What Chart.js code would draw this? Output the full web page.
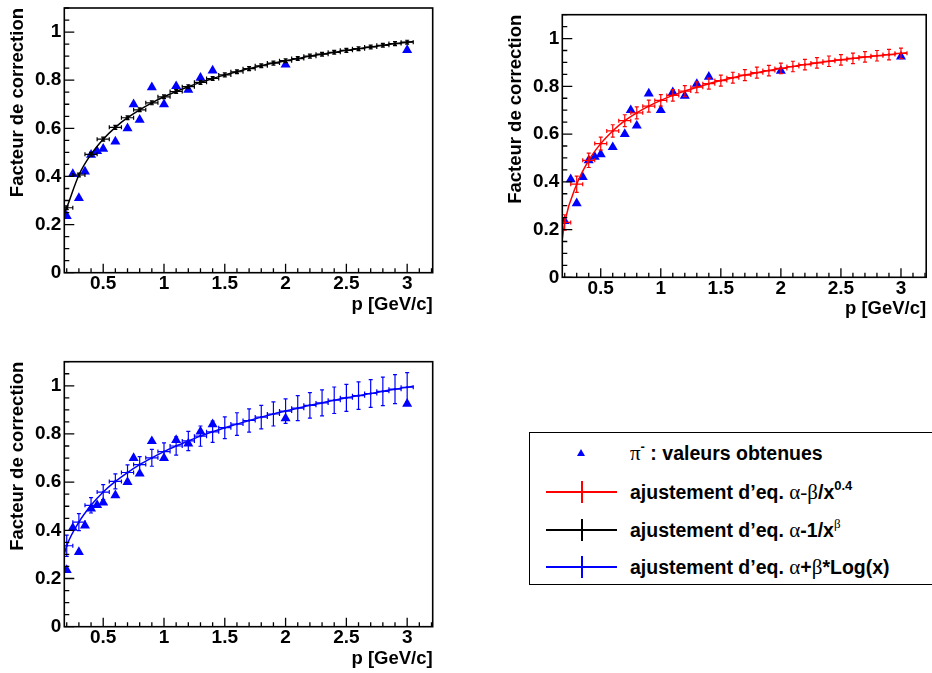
<!DOCTYPE html>
<html>
<head>
<meta charset="utf-8">
<script src="https://cdn.jsdelivr.net/npm/chart.js@4"></script>
<style>
  body { margin: 0; width: 932px; height: 673px; overflow: hidden; background: #fff; position: relative;
         font-family: "Liberation Sans", Arial, sans-serif; }
  .pad { position: absolute; }
  #legend { position: absolute; left: 529px; top: 432px; width: 420px; height: 153px;
            border: 1.5px solid #000; box-sizing: border-box; }
  .row { position: absolute; left: 0; height: 24px; width: 100%; }
  .hl { position: absolute; left: 16px; width: 71px; top: 11px; height: 2px; }
  .vl { position: absolute; left: 51px; width: 2px; top: 1px; height: 22px; }
  .tri { position: absolute; left: 47px; top: 8px; width: 0; height: 0;
         border-left: 4px solid transparent; border-right: 4px solid transparent; border-bottom: 7px solid #0000ff; }
  .txt { position: absolute; left: 100px; top: 0; line-height: 24px; font-size: 19.5px; font-weight: bold; white-space: nowrap; }
  .gr { font-family: "Liberation Serif", "DejaVu Serif", serif; font-weight: normal; font-size: 21px; }
  .sup { font-size: 13px; position: relative; top: -9px; }
</style>
</head>
<body>
<div class="pad" style="left:0;top:0"><canvas id="c1" width="466" height="336"></canvas></div>
<div class="pad" style="left:466px;top:0"><canvas id="c2" width="466" height="336"></canvas></div>
<div class="pad" style="left:0;top:336px"><canvas id="c3" width="466" height="337"></canvas></div>

<div id="legend">
  <div class="row" style="top:8px"><span class="tri"></span>
    <span class="txt"><span class="gr">π</span><span class="sup">-</span> : valeurs obtenues</span></div>
  <div class="row" style="top:47px"><span class="hl" style="background:#ff0000"></span><span class="vl" style="background:#ff0000"></span>
    <span class="txt">ajustement d’eq. <span class="gr">α-β</span>/x<span class="sup">0.4</span></span></div>
  <div class="row" style="top:85px"><span class="hl" style="background:#000"></span><span class="vl" style="background:#000"></span>
    <span class="txt">ajustement d’eq. <span class="gr">α</span>-1/x<span class="sup gr">β</span></span></div>
  <div class="row" style="top:122px"><span class="hl" style="background:#0000ff"></span><span class="vl" style="background:#0000ff"></span>
    <span class="txt">ajustement d’eq. <span class="gr">α</span>+<span class="gr">β</span>*Log(x)</span></div>
</div>

<script>
// measured correction factors (blue triangles)
const pMeas = [0.2, 0.25, 0.3, 0.35, 0.4, 0.45, 0.5, 0.6, 0.7, 0.75, 0.8, 0.9, 1.0, 1.1, 1.2, 1.3, 1.4, 2.0, 3.0];
const corrMeas = [0.235, 0.41, 0.31, 0.42, 0.49, 0.505, 0.515, 0.545, 0.60, 0.70, 0.635, 0.77, 0.70, 0.775, 0.76, 0.81, 0.84, 0.865, 0.925];

// fitted histograms, bin centres
const pBins = [0.2, 0.3, 0.4, 0.5, 0.6, 0.7, 0.8, 0.9, 1.0, 1.1, 1.2, 1.3, 1.4, 1.5, 1.6, 1.7, 1.8, 1.9, 2.0,
               2.1, 2.2, 2.3, 2.4, 2.5, 2.6, 2.7, 2.8, 2.9, 3.0];
const blackFit = [0.27, 0.406, 0.492, 0.555, 0.604, 0.644, 0.677, 0.706, 0.731, 0.753, 0.773, 0.791, 0.807, 0.822, 0.835,
                  0.848, 0.860, 0.871, 0.881, 0.890, 0.900, 0.908, 0.916, 0.924, 0.931, 0.938, 0.945, 0.952, 0.958];
const blackErr = [0.008, 0.008, 0.008, 0.008, 0.008, 0.008, 0.008, 0.008, 0.008, 0.008, 0.008, 0.008, 0.008, 0.008, 0.008,
                  0.008, 0.008, 0.008, 0.008, 0.008, 0.008, 0.008, 0.008, 0.008, 0.008, 0.008, 0.008, 0.008, 0.008];
const redFit = [0.23, 0.39, 0.49, 0.56, 0.613, 0.656, 0.689, 0.717, 0.741, 0.762, 0.780, 0.796, 0.811, 0.824, 0.836,
                0.847, 0.857, 0.866, 0.875, 0.883, 0.891, 0.898, 0.905, 0.911, 0.917, 0.923, 0.928, 0.933, 0.938];
const redErr = [0.032, 0.034, 0.030, 0.027, 0.026, 0.025, 0.025, 0.025, 0.024, 0.024, 0.023, 0.023, 0.023, 0.023, 0.023,
                0.023, 0.023, 0.022, 0.022, 0.022, 0.022, 0.022, 0.022, 0.022, 0.022, 0.022, 0.022, 0.022, 0.022];
const blueFit = [0.336, 0.434, 0.504, 0.559, 0.603, 0.640, 0.673, 0.701, 0.727, 0.750, 0.771, 0.791, 0.809, 0.826, 0.841,
                 0.856, 0.870, 0.883, 0.895, 0.907, 0.919, 0.929, 0.940, 0.950, 0.959, 0.968, 0.977, 0.986, 0.994];
const blueErr = [0.044, 0.035, 0.032, 0.031, 0.031, 0.032, 0.033, 0.035, 0.036, 0.038, 0.040, 0.042, 0.044, 0.045, 0.047,
                 0.048, 0.049, 0.050, 0.051, 0.052, 0.053, 0.054, 0.055, 0.056, 0.057, 0.058, 0.059, 0.060, 0.061];

// fit curve ends (left frame edge, right end of last bin)
const curveEndsP = [0.18, 3.05];
const blackEnds = [0.245, 0.961];
const redEnds = [0.16, 0.941];
const blueEnds = [0.30, 0.998];

const xTickVals = [0.5, 1, 1.5, 2, 2.5, 3];
const yTickVals = [0, 0.2, 0.4, 0.6, 0.8, 1];

Chart.defaults.font.family = '"Liberation Sans", Arial, sans-serif';
Chart.defaults.font.weight = 'bold';
Chart.defaults.color = '#000';

// ROOT style error bars: horizontal bin width + vertical error, small caps
const errorBars = {
  id: 'errorBars',
  afterDatasetsDraw(chart) {
    const { ctx, chartArea: a, scales: { x, y } } = chart;
    ctx.save();
    ctx.beginPath();
    ctx.rect(a.left, a.top, a.right - a.left, a.bottom - a.top);
    ctx.clip();
    chart.data.datasets.forEach(ds => {
      if (!ds.errY) return;
      ctx.strokeStyle = ds.borderColor;
      ctx.lineWidth = 1.2;
      const c = ds.cap;
      ds.data.forEach((pt, i) => {
        const px = x.getPixelForValue(pt.x);
        const py = y.getPixelForValue(pt.y);
        const x0 = x.getPixelForValue(pt.x - ds.errX), x1 = x.getPixelForValue(pt.x + ds.errX);
        const y0 = y.getPixelForValue(pt.y - ds.errY[i]), y1 = y.getPixelForValue(pt.y + ds.errY[i]);
        ctx.beginPath();
        ctx.moveTo(x0, py); ctx.lineTo(x1, py);
        ctx.moveTo(x0, py - c); ctx.lineTo(x0, py + c);
        ctx.moveTo(x1, py - c); ctx.lineTo(x1, py + c);
        ctx.moveTo(px, y0); ctx.lineTo(px, y1);
        ctx.moveTo(px - c, y0); ctx.lineTo(px + c, y0);
        ctx.moveTo(px - c, y1); ctx.lineTo(px + c, y1);
        ctx.stroke();
      });
    });
    ctx.restore();
  }
};

// frame + inward ticks
const rootFrame = {
  id: 'rootFrame',
  afterDraw(chart) {
    const { ctx, chartArea: a, scales: { x, y } } = chart;
    ctx.save();
    ctx.strokeStyle = '#000';
    ctx.lineWidth = 1.6;
    ctx.strokeRect(a.left, a.top, a.right - a.left, a.bottom - a.top);
    ctx.lineWidth = 1.3;
    ctx.beginPath();
    for (let k = 2; k <= 32; k++) {
      const px = x.getPixelForValue(k / 10);
      const len = k % 5 === 0 ? 9 : 4.5;
      ctx.moveTo(px, a.bottom); ctx.lineTo(px, a.bottom - len);
    }
    for (let k = 0; k <= 22; k++) {
      const py = y.getPixelForValue(k / 20);
      const len = k % 4 === 0 ? 10 : 5;
      ctx.moveTo(a.left, py); ctx.lineTo(a.left + len, py);
    }
    ctx.stroke();
    ctx.restore();
  }
};

function noPad(s) {
  s.paddingTop = 0; s.paddingBottom = 0; s.paddingLeft = 0; s.paddingRight = 0;
}

function makePanel(id, color, fit, err, ends, lay) {
  const curve = [{ x: curveEndsP[0], y: ends[0] }]
    .concat(pBins.map((p, i) => ({ x: p, y: fit[i] })))
    .concat([{ x: curveEndsP[1], y: ends[1] }]);
  new Chart(document.getElementById(id), {
    type: 'scatter',
    data: {
      datasets: [
        { type: 'line', data: curve, borderColor: color, borderWidth: 1.5, pointRadius: 0,
          cubicInterpolationMode: 'monotone', fill: false },
        { data: pBins.map((p, i) => ({ x: p, y: fit[i] })), borderColor: color, backgroundColor: color,
          pointStyle: 'rect', pointRadius: color === '#000' ? 2.1 : 1.5, borderWidth: 0,
          errX: 0.05, errY: err, cap: 2 },
        { data: pMeas.map((p, i) => ({ x: p, y: corrMeas[i] })), backgroundColor: '#0000ff', borderColor: '#0000ff',
          pointStyle: 'triangle', pointRadius: 5.8, borderWidth: 0 }
      ]
    },
    options: {
      responsive: false,
      animation: false,
      events: [],
      layout: { padding: { left: 0, top: lay.top, right: lay.right, bottom: 0 } },
      plugins: { legend: { display: false }, tooltip: { enabled: false } },
      scales: {
        x: {
          type: 'linear', min: 0.18, max: 3.21,
          afterBuildTicks: s => { s.ticks = xTickVals.map(v => ({ value: v })); },
          afterFit: s => { s.height = lay.xh; noPad(s); },
          grid: { display: false, drawTicks: false }, border: { display: false },
          ticks: { padding: 0, maxRotation: 0, autoSkip: false, font: { size: 19, weight: 'bold' },
                   callback: v => String(v) },
          title: { display: true, text: 'p [GeV/c]', align: 'end', font: { size: 18.5, weight: 'bold' },
                   padding: { top: 0, bottom: lay.xtp } }
        },
        y: {
          type: 'linear', min: 0, max: 1.1,
          afterBuildTicks: s => { s.ticks = yTickVals.map(v => ({ value: v })); },
          afterFit: s => { s.width = lay.yw; noPad(s); },
          grid: { display: false, drawTicks: false }, border: { display: false },
          ticks: { padding: 3, font: { size: 19, weight: 'bold' }, callback: v => String(v) },
          title: { display: true, text: 'Facteur de correction', align: 'end', font: { size: 18.5, weight: 'bold' },
                   padding: { top: lay.ytp, bottom: 0 } }
        }
      }
    },
    plugins: [errorBars, rootFrame]
  });
}

makePanel('c1', '#000', blackFit, blackErr, blackEnds, { top: 8, right: 33.3, yw: 64.3, xh: 63.3, xtp: 20.2, ytp: 6.9 });
makePanel('c2', '#ff0000', redFit, redErr, redEnds, { top: 14.7, right: 1, yw: 96.3, xh: 58.7, xtp: 15.6, ytp: 38.6 });
makePanel('c3', '#0000ff', blueFit, blueErr, blueEnds, { top: 25.7, right: 33.3, yw: 64.3, xh: 46.3, xtp: 3.2, ytp: 6.9 });
</script>
</body>
</html>
